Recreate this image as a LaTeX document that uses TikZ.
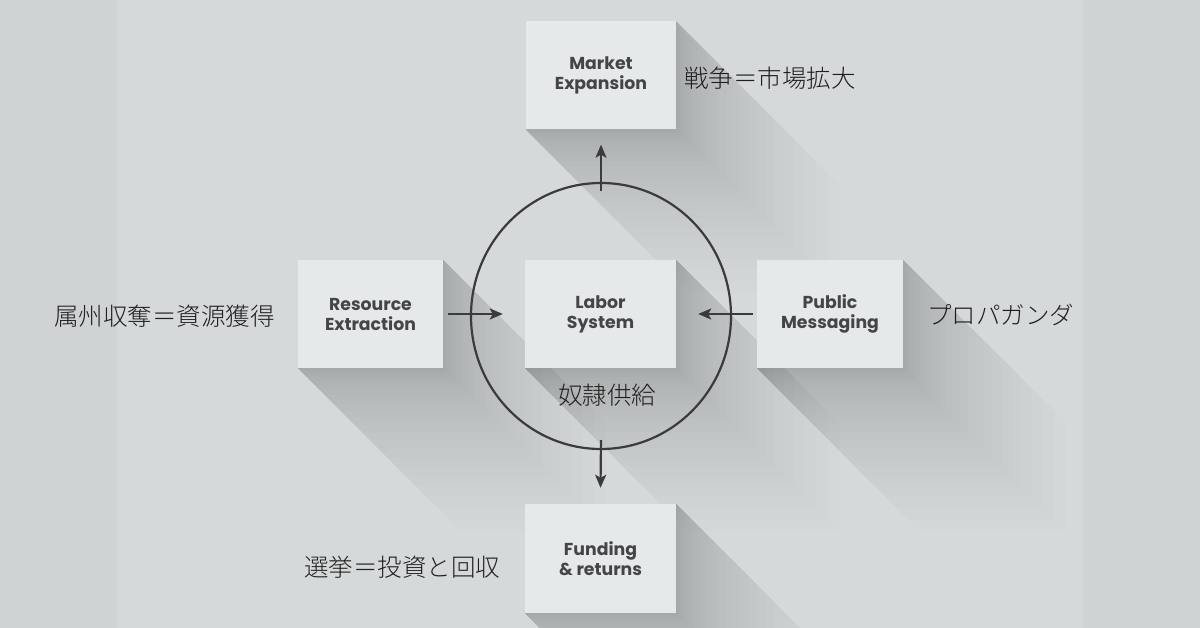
\documentclass[tikz,border=0pt]{standalone}
\usepackage{fontspec}
\newfontfamily\jp{Noto Sans CJK JP}[UprightFont=* Light]
\newfontfamily\bx{Poppins}
\usetikzlibrary{arrows.meta,calc,shapes.geometric}
\definecolor{bgc}{HTML}{D6D9DA}
\definecolor{stripc}{HTML}{CFD3D4}
\definecolor{boxfill}{HTML}{E6E9EA}
\definecolor{ink}{HTML}{3A3B3C}
\definecolor{txt}{HTML}{444546}
\pgfdeclarelayer{bglayer}
\pgfsetlayers{bglayer,main}
\begin{document}
\begin{tikzpicture}[x=1pt,y=-1pt,
  box/.style={fill=boxfill, minimum height=108pt, inner sep=0pt, align=center, text=txt,
              font=\bx\bfseries\fontsize{17.3}{20}\selectfont},
  jtxt/.style={anchor=west, inner sep=0pt, text=black!88, font=\jp\fontsize{24.5}{28}\selectfont},
  arr/.style={draw=ink, line width=2.2pt, -{Stealth[length=13pt,width=11pt,inset=3pt]}},
  shd/.style={fill=black, fill opacity=0.0085}]
\useasboundingbox (0,0) rectangle (1200,628);

% boxes
\node[box, minimum width=150pt] (mkt) at (601,75.5) {Market\\Expansion};
\node[box, minimum width=145pt] (res) at (370.5,314) {Resource\\Extraction};
\node[box, minimum width=151pt] (lab) at (600.5,314) {Labor\\System};
\node[box, minimum width=146pt] (pub) at (830,314) {Public\\Messaging};
\node[box, minimum width=151pt, minimum height=109pt] (fund) at (600.5,558.5) {Funding\\\&~returns};

% cycle ring
\node[draw=ink, line width=2.2pt, ellipse, minimum width=260pt, minimum height=266pt, inner sep=0pt] (circ) at (601,316) {};

% connectors
\draw[arr] ([yshift=-9pt]circ.north) -- ([yshift=-15pt]mkt.south);
\draw[arr] ([yshift=10pt]circ.south) -- ([yshift=16pt]fund.north);
\draw[arr] ([xshift=5pt]res.east) -- ([xshift=-22pt]lab.west);
\draw[arr] ([xshift=-4pt]pub.west) -- ([xshift=22pt]lab.east);

% annotations
\node[jtxt] (tmkt) at (684,78) {戦争＝市場拡大};
\node[jtxt] (tres) at (54,316) {属州収奪＝資源獲得};
\node[jtxt] (tpub) at (927,315) {プロパガンダ};
\node[jtxt] (tlab) at (558,395) {奴隷供給};
\node[jtxt] (tfund) at (304,567) {選挙＝投資と回収};

% background and long shadows
\begin{pgfonlayer}{bglayer}
\fill[stripc] (0,0) rectangle (1200,628);
\fill[bgc] (117,0) rectangle (1083,628);
\foreach \n in {mkt,res,lab,pub,fund}{
  \foreach \k in {1,...,24}{
    \pgfmathsetmacro{\d}{\k*\k*0.22+\k*1.5}
    \fill[shd] (\n.north east) -- ($(\n.north east)+(\d,\d)$) -- ($(\n.south east)+(\d,\d)$)
       -- ($(\n.south west)+(\d,\d)$) -- (\n.south west) -- cycle;
  }
}
\end{pgfonlayer}
\end{tikzpicture}
\end{document}
